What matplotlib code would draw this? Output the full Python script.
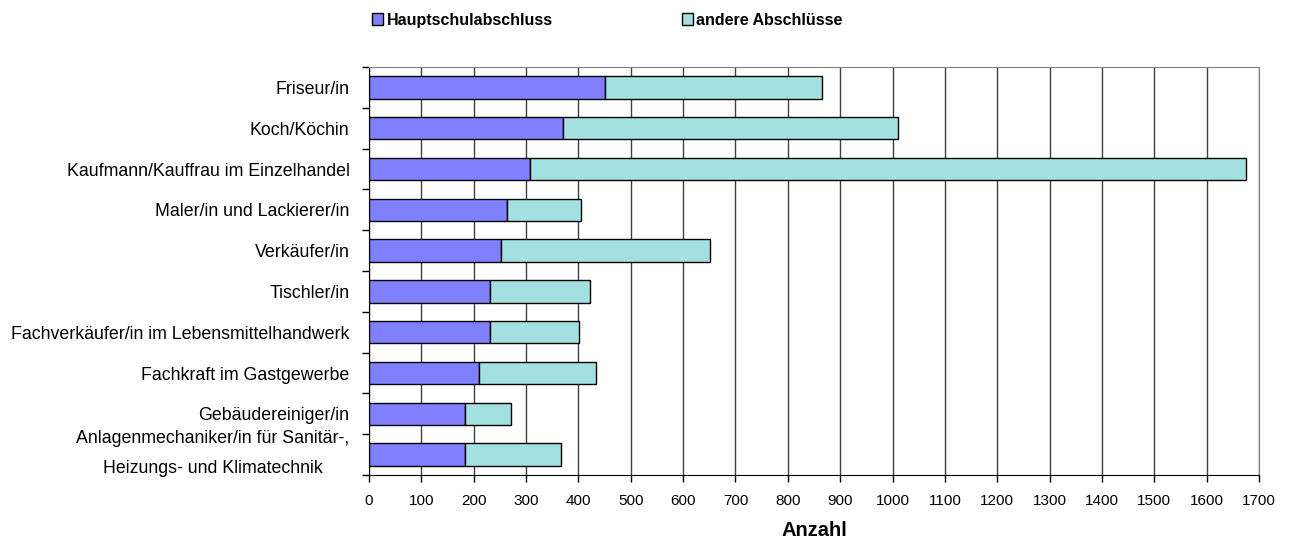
import matplotlib.pyplot as plt
from matplotlib.ticker import MultipleLocator
import matplotlib.transforms as mtransforms
import numpy as np

plt.rcParams['font.family'] = ['Liberation Sans', 'DejaVu Sans']

berufe = ["Friseur/in",
          "Koch/Köchin",
          "Kaufmann/Kauffrau im Einzelhandel",
          "Maler/in und Lackierer/in",
          "Verkäufer/in",
          "Tischler/in",
          "Fachverkäufer/in im Lebensmittelhandwerk",
          "Fachkraft im Gastgewerbe",
          "Gebäudereiniger/in",
          "Anlagenmechaniker/in für Sanitär-,\nHeizungs- und Klimatechnik"]
hauptschule = [450, 370, 307, 263, 252, 232, 232, 211, 184, 184]
andere = [415, 640, 1368, 141, 399, 190, 169, 222, 88, 183]

fig = plt.figure(figsize=(12.92, 5.48), dpi=100)
ax = fig.add_axes([369 / 1292, 1 - 475 / 548, 890 / 1292, 408 / 548])

y = np.arange(len(berufe))
b1 = ax.barh(y, hauptschule, height=0.55, color='#8080FF', edgecolor='black', linewidth=1, zorder=3,
             label='Hauptschulabschluss')
b2 = ax.barh(y, andere, left=hauptschule, height=0.55, color='#A3E0E0', edgecolor='black', linewidth=1,
             zorder=3, label='andere Abschlüsse')

ax.set_ylim(len(berufe) - 0.5, -0.5)
ax.set_xlim(0, 1700)
ax.xaxis.set_major_locator(MultipleLocator(100))
ax.set_yticks(y)
ax.set_yticklabels(berufe, fontsize=12.8, multialignment='center', linespacing=2.0)
ax.tick_params(axis='y', length=0, pad=14)
ax.set_yticks(np.arange(-0.5, len(berufe), 1), minor=True)
ax.tick_params(axis='y', which='minor', length=5, width=1, direction='out')
ax.tick_params(axis='x', length=5, width=1, direction='out', labelsize=11, pad=9)
ax.grid(axis='x', color='#404040', linewidth=1, zorder=0)
ax.set_axisbelow(True)

# zweizeiliges Label etwas nach oben schieben
last = ax.get_yticklabels()[-1]
last.set_transform(last.get_transform() + mtransforms.ScaledTranslation(0, 7 / 72, fig.dpi_scale_trans))

for s in ['top', 'right']:
    ax.spines[s].set_color('#808080')
for s in ['left', 'bottom']:
    ax.spines[s].set_color('black')

ax.set_xlabel('Anzahl', fontsize=14.5, fontweight='bold', labelpad=9)

fig.legend(handles=[b1, b2], loc='upper left', bbox_to_anchor=(372 / 1292, 0.977), ncol=2, frameon=False,
           prop={'size': 11.5, 'weight': 'bold'}, handlelength=0.7, handleheight=0.7, handletextpad=0.2,
           columnspacing=8.1, borderpad=0, borderaxespad=0)

fig.savefig('out.png', dpi=100)
